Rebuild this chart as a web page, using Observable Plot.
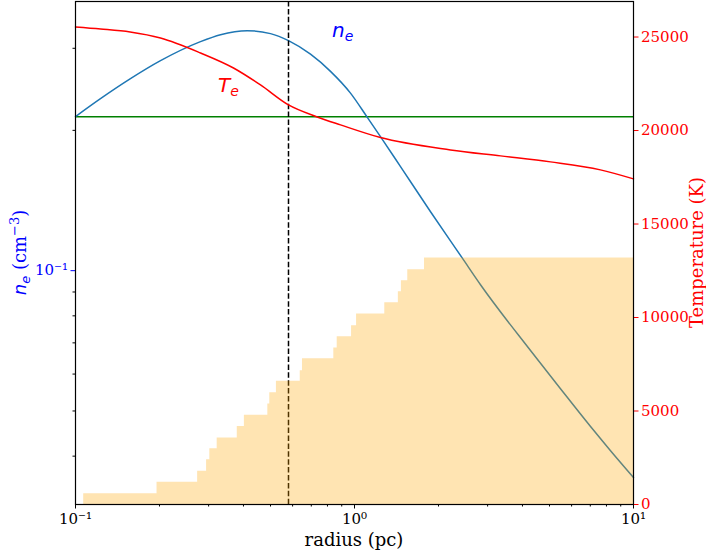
<!DOCTYPE html>
<html><head><meta charset="utf-8">
<script src="https://cdn.jsdelivr.net/npm/d3@7"></script>
<script src="https://cdn.jsdelivr.net/npm/@observablehq/plot@0.6"></script>
<style>
body{margin:0;background:#fff}
#chart{position:relative;width:706px;height:555px}
#chart svg{position:absolute;left:0;top:0;overflow:visible;background:transparent}
</style>
</head><body><div id="chart"></div>
<script>
// ---- data ----
const neRadius = [0.1,0.1229,0.1574,0.2017,0.2805,0.331,0.4124,0.5,0.58,0.6955,0.8203,0.9675,1.11,1.239,1.462,1.873,2.432,2.829,4.274,5.474,7.015,8.273,10];
const neValues = [0.2141,0.2339,0.2582,0.2822,0.31,0.3209,0.3273,0.3225,0.3116,0.2914,0.2677,0.2404,0.2135,0.1939,0.1672,0.1338,0.1065,0.0933,0.0674,0.0558,0.0463,0.0411,0.036];
const teRadius = [0.1,0.123,0.157,0.2017,0.2807,0.3684,0.4603,0.58,0.735,0.891,1.239,2.208,3.337,5.04,7.61,10];
const teValues = [25535,25428,25268,24947,24146,23344,22437,21368,20727,20300,19622,18964,18644,18323,17896,17415];
const stepEdges = [0.107,0.196,0.274,0.295,0.303,0.322,0.380,0.403,0.489,0.497,0.525,0.639,0.651,0.843,0.867,0.976,1.017,1.284,1.436,1.473,1.552,1.782,10];
const stepTemps = [572,1191,1779,2388,2976,3563,4167,4770,5373,5983,6587,7158,7799,8371,8975,9562,10187,10791,11378,11966,12554,13179];
const greenLevel = 0.214;      // n_e
const dashRadius = 0.58;       // pc
const xMajorTicks = [0.1, 1, 10];
const xMajorLabels = ["10⁻¹", "10⁰", "10¹"];
const xMinorTicks = [0.2,0.3,0.4,0.5,0.6,0.7,0.8,0.9,2,3,4,5,6,7,8,9];
const neMajorTicks = [0.1];
const neMajorLabels = ["10⁻¹"];
const neMinorTicks = [0.04,0.05,0.06,0.07,0.08,0.09,0.2,0.3];
const tTicks = [0,5000,10000,15000,20000,25000];
const neLabelPos = [0.911, 0.316];   // r, n_e
const teLabelPos = [0.3545, 22025];  // r, T

// ---- layout ----
const W = 706, H = 555;
const M = {marginLeft: 75, marginRight: 73, marginTop: 1, marginBottom: 51};
const font = "DejaVu Serif";

const neData = neRadius.map((r, i) => ({r, v: neValues[i]}));
const teData = teRadius.map((r, i) => ({r, v: teValues[i]}));
const stepData = stepTemps.map((t, i) => ({r: stepEdges[i], v: t}));
stepData.push({r: stepEdges[stepEdges.length - 1], v: stepTemps[stepTemps.length - 1]});

const p1 = Plot.plot({
  width: W, height: H, ...M,
  style: {fontFamily: font, fontSize: "15px", background: "transparent", overflow: "visible"},
  x: {type: "log", domain: [0.1, 10], axis: null},
  y: {type: "log", domain: [0.0315, 0.378], axis: null},
  marks: [
    Plot.ruleY([greenLevel], {stroke: "green", strokeWidth: 1.5}),
    Plot.line(neData, {x: "r", y: "v", stroke: "#1f77b4", strokeWidth: 1.5, curve: "monotone-x"}),
    Plot.axisX({ticks: xMinorTicks, tickSize: 2.5, tickFormat: () => "", stroke: "black", label: null}),
    Plot.axisX({ticks: xMajorTicks, tickSize: 4.5, tickPadding: 4, tickFormat: d => xMajorLabels[xMajorTicks.indexOf(d)], color: "black", fontSize: 15, label: null}),
    Plot.axisY({ticks: neMinorTicks, tickSize: 2.5, tickFormat: () => "", stroke: "black", label: null}),
    Plot.axisY({ticks: neMajorTicks, tickSize: 4.5, tickPadding: 3, tickFormat: d => neMajorLabels[neMajorTicks.indexOf(d)], color: "blue", fontSize: 15, label: null})
  ]
});

const p2 = Plot.plot({
  width: W, height: H, ...M,
  style: {fontFamily: font, fontSize: "15px", background: "transparent", overflow: "visible"},
  x: {type: "log", domain: [0.1, 10], axis: null},
  y: {type: "linear", domain: [0, 26900], axis: null},
  marks: [
    Plot.ruleX([dashRadius], {stroke: "black", strokeWidth: 1.5, strokeDasharray: "5.5,2.4"}),
    Plot.line(teData, {x: "r", y: "v", stroke: "red", strokeWidth: 1.5, curve: "monotone-x"}),
    Plot.areaY(stepData, {x: "r", y: "v", curve: "step-after", fill: "orange", fillOpacity: 0.3}),
    Plot.axisY({anchor: "right", ticks: tTicks, tickSize: 4.5, tickPadding: 3, tickFormat: d3.format("d"), color: "red", fontSize: 15, label: null}),
    Plot.frame({stroke: "black", strokeWidth: 1.2})
  ]
});

const chart = document.getElementById("chart");
chart.appendChild(p1);
chart.appendChild(p2);

// axis titles and annotations (real text, placed with the plot scales)
const sx = p2.scale("x"), sT = p2.scale("y"), sN = p1.scale("y");
const svg = d3.select(p2);
const midY = (M.marginTop + H - M.marginBottom) / 2;
const midX = (M.marginLeft + W - M.marginRight) / 2;

svg.append("text").attr("x", midX).attr("y", 546).attr("text-anchor", "middle")
  .attr("font-family", font).attr("font-size", 18).attr("fill", "black").text("radius (pc)");

svg.append("text").attr("transform", `translate(703,${midY}) rotate(-90)`).attr("text-anchor", "middle")
  .attr("font-family", font).attr("font-size", 18).attr("fill", "red").text("Temperature (K)");

const yl = svg.append("text").attr("transform", `translate(26,${midY}) rotate(-90)`).attr("text-anchor", "middle")
  .attr("font-size", 18).attr("fill", "blue");
yl.append("tspan").attr("font-family", "DejaVu Sans").attr("font-style", "italic").text("n");
yl.append("tspan").attr("font-family", "DejaVu Sans").attr("font-style", "italic").attr("font-size", 13).attr("dy", 4).text("e");
yl.append("tspan").attr("font-family", font).attr("dy", -4).text(" (cm");
yl.append("tspan").attr("font-family", font).attr("font-size", 13).attr("dy", -7).text("−3");
yl.append("tspan").attr("font-family", font).attr("dy", 7).text(")");

function mathLabel(x, y, main, sub, color) {
  const t = svg.append("text").attr("x", x).attr("y", y).attr("fill", color)
    .attr("font-family", "DejaVu Sans").attr("font-style", "italic").attr("font-size", 20);
  t.append("tspan").text(main);
  t.append("tspan").attr("font-size", 14).attr("dy", 4).text(sub);
}
mathLabel(sx.apply(neLabelPos[0]), sN.apply(neLabelPos[1]), "n", "e", "blue");
mathLabel(sx.apply(teLabelPos[0]), sT.apply(teLabelPos[1]), "T", "e", "red");
</script>
</body></html>
